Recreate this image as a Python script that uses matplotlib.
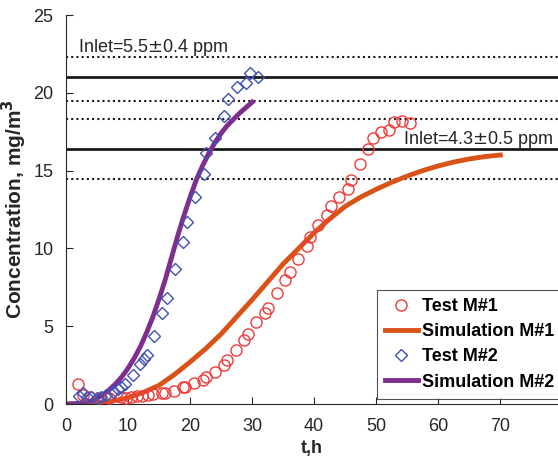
import numpy as np
import matplotlib
matplotlib.use("Agg")
import matplotlib.pyplot as plt

plt.rcParams['font.family'] = ['Liberation Sans', 'DejaVu Sans']

# Test M#1 (circles)
t_test1 = [2.0, 2.7, 3.9, 5.4, 7.0, 8.8, 9.7, 10.5, 11.4, 12.3, 13.2, 14.0, 15.4, 15.9,
           17.4, 18.9, 19.2, 20.6, 22.0, 22.6, 24.0, 25.4, 25.9, 27.4, 28.7, 29.4, 30.7,
           32.0, 32.6, 34.0, 35.3, 36.1, 37.4, 38.8, 39.3, 40.6, 42.0, 42.7, 44.0, 45.4,
           46.0, 47.4, 48.7, 49.5, 50.8, 52.0, 52.9, 54.1, 55.4]
c_test1 = [1.28, 0.58, 0.47, 0.36, 0.36, 0.47, 0.36, 0.47, 0.5, 0.54, 0.6, 0.64, 0.69, 0.73,
           0.84, 1.07, 1.11, 1.33, 1.54, 1.75, 2.08, 2.5, 2.8, 3.47, 4.1, 4.5, 5.25,
           5.87, 6.2, 7.15, 7.95, 8.5, 9.3, 10.15, 10.75, 11.5, 12.15, 12.7, 13.3, 13.8,
           14.4, 15.4, 16.4, 17.1, 17.45, 17.6, 18.15, 18.2, 18.05]

# Test M#2 (diamonds)
t_test2 = [2.1, 2.7, 3.4, 4.1, 5.0, 5.7, 6.5, 7.6, 8.3, 8.9, 9.5, 10.8, 12.0, 12.6, 13.0,
           14.2, 15.5, 16.2, 17.5, 18.9, 19.5, 20.8, 22.2, 22.6, 24.0, 25.5, 26.1, 27.6,
           29.0, 29.6, 31.0]
c_test2 = [0.5, 0.69, 0.45, 0.47, 0.4, 0.47, 0.6, 0.8, 0.95, 1.11, 1.3, 1.86, 2.6, 2.9, 3.15,
           4.37, 5.87, 6.8, 8.66, 10.4, 11.7, 13.3, 14.8, 16.1, 17.1, 18.5, 19.6, 20.4,
           20.65, 21.25, 21.0]

# Simulation curves
t_sim1 = [0, 2.5, 5, 7.5, 10, 12.5, 15, 17.5, 20, 22.5, 25, 27.5, 30, 32.5, 35, 37.5,
          40, 42.5, 45, 47.5, 50, 52.5, 55, 57.5, 60, 62.5, 65, 67.5, 70]
c_sim1 = [0, 0.01, 0.05, 0.2, 0.4, 0.75, 1.2, 1.9, 2.7, 3.55, 4.5, 5.6, 6.7, 7.85, 9.0, 10.0,
          11.0, 11.9, 12.7, 13.3, 13.8, 14.25, 14.65, 15.0, 15.3, 15.55, 15.75, 15.9, 16.0]

t_sim2 = [0, 1, 2, 3, 4, 5, 6, 7, 8, 9, 10, 11, 12, 13, 14, 15, 16, 17, 18, 19, 20,
          21, 22, 23, 24, 25, 26, 27, 28, 29, 30]
c_sim2 = [0, 0.01, 0.04, 0.1, 0.2, 0.37, 0.6, 0.92, 1.3, 1.75, 2.3, 2.95, 3.7, 4.6, 5.6,
          6.75, 8.0, 9.4, 10.8, 12.1, 13.3, 14.4, 15.3, 16.1, 16.8, 17.4, 17.9, 18.3, 18.7,
          19.05, 19.4]

# inlet levels
inlet_solid = [21.0, 16.4]
inlet_dotted = [22.3, 19.5, 18.3, 14.45]

fig = plt.figure(figsize=(5.58, 4.63), dpi=100)
ax = fig.add_axes([0.1183, 0.1274, 0.8817, 0.8402])

for y in inlet_solid:
    ax.axhline(y, color='#1a1a1a', lw=2.0, zorder=1)
for y in inlet_dotted:
    ax.axhline(y, color='#1a1a1a', lw=1.5, ls=(0, (1, 1.5)), zorder=1)

ax.plot(t_test1, c_test1, 'o', mfc='none', mec='#f03a3a', ms=8, mew=1.0, label='Test M#1', zorder=3)
ax.plot(t_sim1, c_sim1, '-', color='#d95319', lw=3.5, label='Simulation M#1', zorder=2)
ax.plot(t_test2, c_test2, 'D', mfc='none', mec='#3f51b5', ms=6.5, mew=1.0, label='Test M#2', zorder=3)
ax.plot(t_sim2, c_sim2, '-', color='#7e2f8e', lw=3.5, label='Simulation M#2', zorder=2)

ax.text(2.0, 22.65, 'Inlet=5.5$\\pm$0.4 ppm', fontsize=13, color='#262626')
ax.text(54.3, 16.7, 'Inlet=4.3$\\pm$0.5 ppm', fontsize=13, color='#262626')

ax.set_xlim(0, 79.3)
ax.set_ylim(0, 25)
ax.set_xticks([0, 10, 20, 30, 40, 50, 60, 70])
ax.set_yticks([0, 5, 10, 15, 20, 25])
ax.spines['top'].set_visible(False)
ax.spines['right'].set_visible(False)
for s in ['left', 'bottom']:
    ax.spines[s].set_color('#262626')
    ax.spines[s].set_linewidth(0.8)
ax.tick_params(direction='in', length=5, labelsize=13, colors='#262626')
ax.tick_params(axis='x', pad=10)
ax.tick_params(axis='y', pad=9)
ax.set_xlabel('t,h', fontsize=13, fontweight='bold', color='#262626', labelpad=4)
ax.set_ylabel('Concentration, mg/m$^\\mathbf{3}$', fontsize=15, fontweight='bold',
              color='#262626', labelpad=3)

leg = ax.legend(loc='upper left', bbox_to_anchor=(0.632, 0.293),
                prop={'weight': 'bold', 'size': 13}, frameon=True, fancybox=False,
                edgecolor='#262626', handlelength=1.8, handletextpad=0.25,
                borderpad=0.45, labelspacing=0.45, borderaxespad=0)
leg.get_frame().set_linewidth(0.8)

fig.savefig('out.png', dpi=100)
